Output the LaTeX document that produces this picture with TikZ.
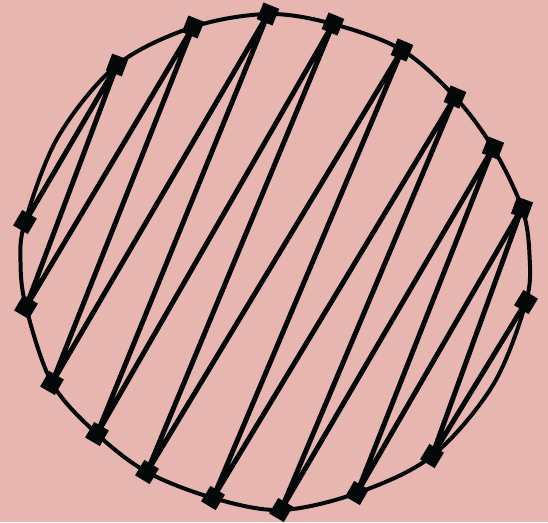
\documentclass[tikz,border=0pt]{standalone}
\usetikzlibrary{calc}
\definecolor{bg}{RGB}{231,182,176}
\definecolor{ink}{RGB}{5,8,8}
\begin{document}
\begin{tikzpicture}[x=1pt,y=-1pt,
  mk/.style={fill=ink, draw=none, rectangle, minimum width=18pt, minimum height=17pt, inner sep=0pt},
  chord/.style={draw=ink, line width=5pt, line join=round},
  rim/.style={draw=ink, line width=4pt}]
\fill[bg] (0,0) rectangle (548,522);
\useasboundingbox (0,0) rectangle (548,522);
% marker positions on the rim
\foreach \n/\x/\y in {T1/117/65, T2/193/27, T3/268/14, T4/333/24, T5/402/50,
  T6/455/97, T7/493/148, T8/522/208, T9/526/302,
  L1/25/222, L2/26/307, L3/52/383, L4/97/434, L5/147/472, L6/213/498,
  L7/281/510, L8/357/493, L9/432/456}
  {\coordinate (\n) at (\x,\y);}
% rim
\draw[rim] plot[smooth cycle, tension=0.55] coordinates {
  (268,14) (333,24) (402,50) (455,97) (493,148) (522,208) (529.5,255) (526,302)
  (493,385) (432,456) (357,493) (281,510) (213,498) (147,472) (97,434) (52,383)
  (26,307) (20.5,262) (25,222) (58,137) (117,65) (193,27)};
\draw[chord] (L1) -- (T1) -- (L2) -- (T2) -- (L3) -- (T3) -- (L4) -- (T4) -- (L5)
  -- (T5) -- (L6) -- (T6) -- (L7) -- (T7) -- (L8) -- (T8) -- (L9) -- (T9);
\foreach \u/\v in {L1/T1, T1/L2, L2/T2, T2/L3, L3/T3, T3/L4, L4/T4, T4/L5, L5/T5,
  T5/L6, L6/T6, T6/L7, L7/T7, T7/L8, L8/T8, T8/L9, L9/T9, T9/L9}
  {\path let \p1=(\u), \p2=(\v), \n1={atan2(\y2-\y1,\x2-\x1)} in
     node[mk, rotate=\n1] (m\u) at (\u) {};}
\end{tikzpicture}
\end{document}
